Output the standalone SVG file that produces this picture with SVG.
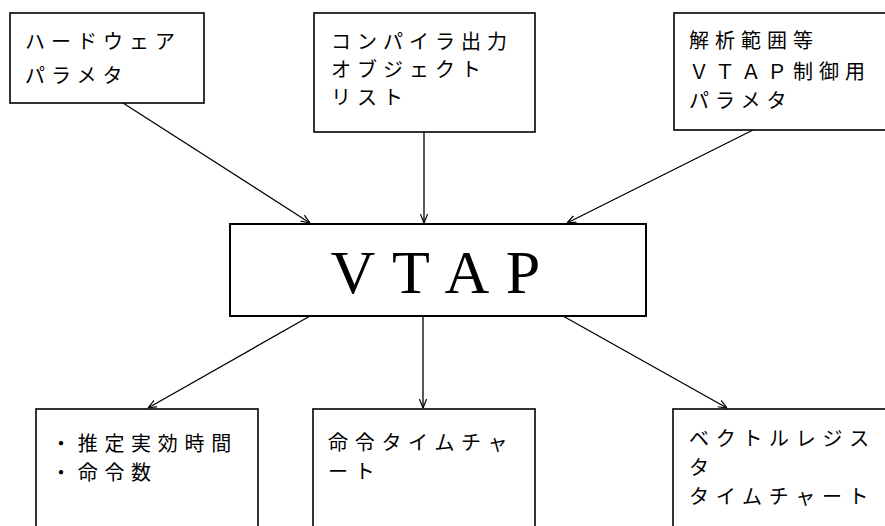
<svg xmlns="http://www.w3.org/2000/svg" width="885" height="526" viewBox="0 0 885 526">
<style>
.box{fill:#fff;stroke:#000;stroke-width:1.6}
.t{font-family:"Noto Sans CJK JP","Noto Sans CJK SC",sans-serif;font-size:20px;letter-spacing:6px;fill:#000}
.b{font-family:"Noto Sans CJK JP","Noto Sans CJK SC",sans-serif;font-size:20px;letter-spacing:6.7px;fill:#000}
.big{font-family:"Liberation Serif","Times New Roman",serif;font-size:62px;fill:#000;text-anchor:middle}
.c{stroke:#000;stroke-width:1.3;fill:none;marker-end:url(#arr)}
</style>
<defs>
<marker id="arr" viewBox="0 0 10 10" refX="10" refY="5" markerWidth="9" markerHeight="9" markerUnits="userSpaceOnUse" orient="auto">
<path d="M0,1 L10,5 L0,9" fill="none" stroke="#000" stroke-width="1.3"/>
</marker>
</defs>
<rect width="885" height="526" fill="#fff"/>
<g id="connectors">
<line class="c" x1="123" y1="103" x2="310" y2="223"/>
<line class="c" x1="424" y1="132" x2="424" y2="223"/>
<line class="c" x1="753" y1="130" x2="567" y2="223"/>
<line class="c" x1="310" y1="316" x2="148" y2="408"/>
<line class="c" x1="423" y1="316" x2="423" y2="408"/>
<line class="c" x1="563" y1="316" x2="727" y2="408"/>
</g>
<g id="hw">
<rect class="box" x="10" y="13" width="194" height="90"/>
<text class="t" x="25" y="49">ハードウェア</text>
<text class="t" x="25" y="83">パラメタ</text>
</g>
<g id="compiler">
<rect class="box" x="314" y="13" width="221" height="119"/>
<text class="t" x="331" y="49">コンパイラ出力</text>
<text class="t" x="331" y="77">オブジェクト</text>
<text class="t" x="331" y="105">リスト</text>
</g>
<g id="ctrl">
<rect class="box" x="674" y="13" width="220" height="117"/>
<text class="t" x="689" y="48">解析範囲等</text>
<text class="t" x="689" y="79">ＶＴＡＰ制御用</text>
<text class="t" x="689" y="108">パラメタ</text>
</g>
<g id="vtap">
<rect class="box" x="230" y="224" width="416" height="92" style="stroke-width:2"/>
<text class="big" y="293"><tspan x="353">V</tspan><tspan x="411">T</tspan><tspan x="467">A</tspan><tspan x="523">P</tspan></text>
</g>
<g id="time">
<rect class="box" x="36" y="409" width="222" height="125"/>
<text class="b" x="51" y="451">・推定実効時間</text>
<text class="b" x="51" y="480">・命令数</text>
</g>
<g id="chart">
<rect class="box" x="313" y="409" width="222" height="125"/>
<text class="b" x="328" y="450">命令タイムチャ</text>
<text class="b" x="328" y="479">ート</text>
</g>
<g id="vreg">
<rect class="box" x="673" y="409" width="222" height="125"/>
<text class="b" x="689" y="446">ベクトルレジス</text>
<text class="b" x="689" y="475">タ</text>
<text class="b" x="689" y="504">タイムチャート</text>
</g>
</svg>
